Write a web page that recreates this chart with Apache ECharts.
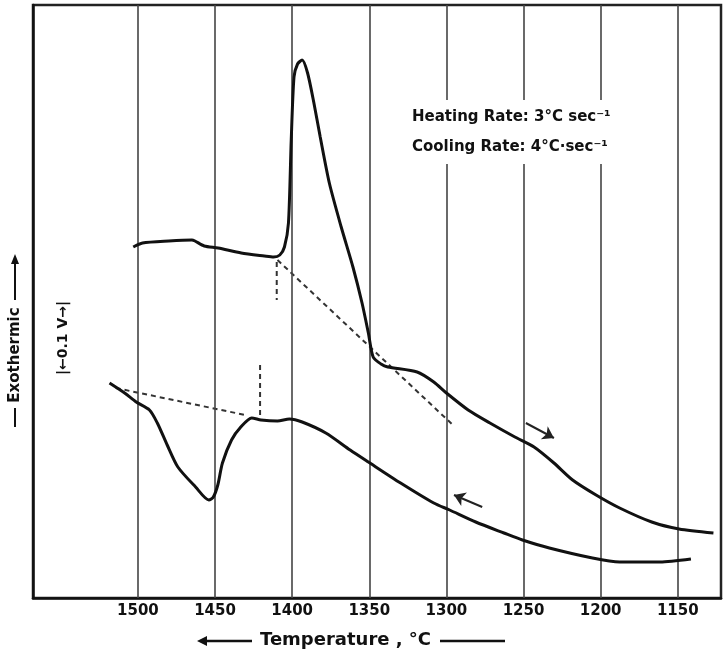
<!DOCTYPE html>
<html>
<head>
<meta charset="utf-8">
<script src="https://cdn.jsdelivr.net/npm/echarts@6/dist/echarts.min.js"></script>
<style>
  html, body { margin: 0; padding: 0; background: #fff; }
  #chart { width: 723px; height: 657px; }
</style>
</head>
<body>
<div id="chart"></div>
<script>
// Temperature tick labels (°C)
const tickTemps = [1500, 1450, 1400, 1350, 1300, 1250, 1200, 1150];

// Heating curve (upper)
const heatT = [1503, 1497, 1480, 1465, 1463, 1457, 1448, 1433, 1418, 1412, 1408, 1405, 1402.4, 1400.6,
  1398.8, 1396.5, 1393.5, 1390, 1385.9, 1381.8, 1375.9, 1368.2, 1360.6, 1354.7, 1350.6, 1347.5, 1342.4,
  1338, 1319, 1308.2, 1300, 1285.9, 1271.8, 1255.6, 1243.2, 1230.3, 1218.2, 1203, 1187.7, 1166.9, 1149.2, 1126.9];
const heatS = [35.1, 35.5, 35.7, 35.8, 35.7, 35.2, 35.0, 34.5, 34.2, 34.1, 34.3, 35.1, 37.5, 45.8,
  52.1, 53.4, 53.8, 52.5, 49.5, 46.1, 41.5, 37.1, 33.1, 29.5, 26.5, 24.1, 23.4,
  23.1, 22.6, 21.6, 20.5, 18.8, 17.5, 16.1, 15.1, 13.5, 11.8, 10.3, 9.0, 7.6, 6.9, 6.5];

// Cooling curve (lower)
const coolT = [1518.4, 1508.6, 1501.1, 1492.5, 1487.4, 1481, 1474.1, 1462.6, 1454, 1451.1, 1448.2, 1445.2,
  1439.3, 1433.3, 1426.2, 1420.2, 1409.5, 1401.8, 1393.5, 1378.2, 1362.4, 1350.6, 1329.7, 1308.2, 1297.9,
  1281, 1262.7, 1250.7, 1233.3, 1205.3, 1187.7, 1161.5, 1141.5];
const coolS = [21.5, 20.5, 19.6, 18.8, 17.5, 15.3, 13.1, 11.1, 9.8, 10.1, 11.3, 13.5,
  15.8, 17.1, 18.0, 17.8, 17.7, 17.9, 17.6, 16.5, 14.8, 13.6, 11.5, 9.5, 8.8,
  7.6, 6.5, 5.8, 5.0, 4.0, 3.6, 3.6, 3.9];

// Dashed construction lines
const heatBaseT = [1409.5, 1296.5];
const heatBaseS = [33.8, 17.4];
const heatOnsetT = [1410, 1410];
const heatOnsetS = [33.6, 29.8];
const coolBaseT = [1514.4, 1430.4];
const coolBaseS = [21.0, 18.3];
const coolOnsetT = [1420.8, 1420.8];
const coolOnsetS = [23.3, 18.0];

// Direction arrows
const heatArrowT = [1248.5, 1230.3];
const heatArrowS = [17.5, 16.0];
const coolArrowT = [1276.8, 1295.1];
const coolArrowS = [9.1, 10.3];

const pairs = (a, b) => a.map((v, i) => [v, b[i]]);

const FONT = 'DejaVu Sans';
const INK = '#111';

const chart = echarts.init(document.getElementById('chart'), null, { renderer: 'canvas' });

const dashed = (name, t, s) => ({
  name, type: 'line', data: pairs(t, s), symbol: 'none', silent: true, z: 3,
  lineStyle: { color: '#333', width: 2, type: [5, 4] }
});

chart.setOption({
  backgroundColor: '#fff',
  animation: false,
  grid: { left: 33, right: 2, top: 5, bottom: 59, show: true, borderColor: '#222', borderWidth: 2.5 },
  xAxis: {
    type: 'value', inverse: true, min: 1122, max: 1568,
    axisLine: { show: true, lineStyle: { color: '#111', width: 2.5 } },
    axisTick: { show: false, customValues: tickTemps },
    splitLine: { show: false },
    axisLabel: {
      customValues: tickTemps, color: INK, fontFamily: FONT, fontWeight: 'bold', fontSize: 15, margin: 6,
      formatter: v => String(v)
    }
  },
  yAxis: {
    type: 'value', min: 0, max: 59.3,
    axisLine: { show: true, lineStyle: { color: '#111', width: 2.5 } },
    axisTick: { show: false }, axisLabel: { show: false }, splitLine: { show: false }
  },
  series: [
    {
      name: 'grid', type: 'line', data: [], silent: true, z: 1,
      markLine: {
        silent: true, symbol: 'none', label: { show: false },
        lineStyle: { color: '#444', width: 1.6, type: 'solid' },
        data: tickTemps.map(t => ({ xAxis: t }))
      }
    },
    {
      name: 'Heating', type: 'line', data: pairs(heatT, heatS), symbol: 'none', smooth: 0.25,
      z: 5, lineStyle: { color: INK, width: 3 }
    },
    {
      name: 'Cooling', type: 'line', data: pairs(coolT, coolS), symbol: 'none', smooth: 0.25,
      z: 5, lineStyle: { color: INK, width: 3 }
    },
    dashed('heatBase', heatBaseT, heatBaseS),
    dashed('heatOnset', heatOnsetT, heatOnsetS),
    dashed('coolBase', coolBaseT, coolBaseS),
    dashed('coolOnset', coolOnsetT, coolOnsetS),
    {
      name: 'arrows', type: 'line', data: [], silent: true, z: 6,
      markLine: {
        silent: true, symbol: ['none', 'arrow'], symbolSize: 11, label: { show: false },
        lineStyle: { color: '#222', width: 2, type: 'solid' },
        data: [
          [{ coord: [heatArrowT[0], heatArrowS[0]] }, { coord: [heatArrowT[1], heatArrowS[1]] }],
          [{ coord: [coolArrowT[0], coolArrowS[0]] }, { coord: [coolArrowT[1], coolArrowS[1]] }]
        ]
      }
    }
  ],
  graphic: [
    // annotation box
    { type: 'rect', z: 100, shape: { x: 402, y: 100, width: 268, height: 64 }, style: { fill: '#fff' } },
    { type: 'text', z: 101, x: 412, y: 117, style: { text: 'Heating Rate: 3°C sec⁻¹', fill: INK,
      font: 'bold 15px "DejaVu Sans"', textVerticalAlign: 'middle' } },
    { type: 'text', z: 101, x: 412, y: 147, style: { text: 'Cooling Rate: 4°C·sec⁻¹', fill: INK,
      font: 'bold 15px "DejaVu Sans"', textVerticalAlign: 'middle' } },
    // x-axis title
    { type: 'text', z: 101, x: 260, y: 640, style: { text: 'Temperature , °C', fill: INK,
      font: 'bold 18px "DejaVu Sans"', textVerticalAlign: 'middle' } },
    { type: 'line', z: 101, shape: { x1: 204, y1: 641, x2: 252, y2: 641 }, style: { stroke: INK, lineWidth: 2.5 } },
    { type: 'polygon', z: 101, shape: { points: [[197, 641], [207, 636], [207, 646]] }, style: { fill: INK } },
    { type: 'line', z: 101, shape: { x1: 440, y1: 641, x2: 505, y2: 641 }, style: { stroke: INK, lineWidth: 2.5 } },
    // y-axis title
    { type: 'text', z: 101, x: 15, y: 355, rotation: Math.PI / 2, style: { text: 'Exothermic', fill: INK,
      font: 'bold 15px "DejaVu Sans"', textAlign: 'center', textVerticalAlign: 'middle' } },
    { type: 'line', z: 101, shape: { x1: 15, y1: 427, x2: 15, y2: 408 }, style: { stroke: INK, lineWidth: 2 } },
    { type: 'line', z: 101, shape: { x1: 15, y1: 300, x2: 15, y2: 262 }, style: { stroke: INK, lineWidth: 2 } },
    { type: 'polygon', z: 101, shape: { points: [[15, 254], [11, 264], [19, 264]] }, style: { fill: INK } },
    // scale bar
    { type: 'text', z: 101, x: 63, y: 338, rotation: Math.PI / 2, style: { text: '|←0.1 V→|', fill: INK,
      font: 'bold 14px "DejaVu Sans"', textAlign: 'center', textVerticalAlign: 'middle' } }
  ]
});
</script>
</body>
</html>
